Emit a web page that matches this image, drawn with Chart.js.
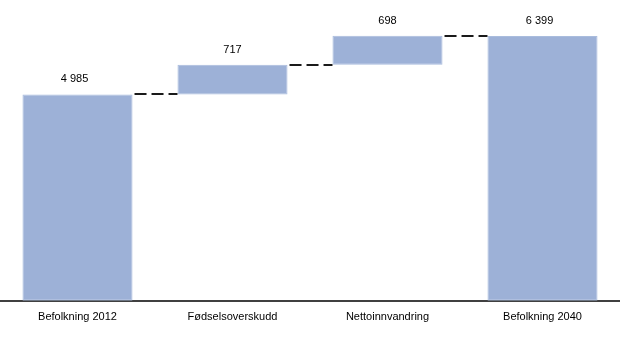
<!DOCTYPE html>
<html>
<head>
<meta charset="utf-8">
<script src="https://cdn.jsdelivr.net/npm/chart.js@4"></script>
<style>
  html, body { margin: 0; padding: 0; background: #fff; }
  #wrap { width: 620px; height: 338px; }
</style>
</head>
<body>
<div id="wrap"><canvas id="fossen"></canvas></div>
<script>
var kategorier = ["Befolkning 2012", "Fødselsoverskudd", "Nettoinnvandring", "Befolkning 2040"];
var verdier = [4985, 717, 698, 6399];
var erTotal = [true, false, false, true];

// bygg flytende søyler: totaler fra 0, endringer fra forrige nivå
var nivaa = 0;
var sooyler = [];
for (var i = 0; i < verdier.length; i++) {
    if (erTotal[i]) {
        sooyler.push([0, verdier[i]]);
        nivaa = verdier[i];
    } else {
        sooyler.push([nivaa, nivaa + verdier[i]]);
        nivaa = nivaa + verdier[i];
    }
}

function formater(v) {
    return String(v).replace(/\B(?=(\d{3})+(?!\d))/g, " ");
}

var skrift = "'Liberation Sans', Arial, sans-serif";

var etiketter = {
    id: "etiketter",
    afterDatasetsDraw: function(chart) {
        var ctx = chart.ctx;
        var meta = chart.getDatasetMeta(0);
        var y = chart.scales.y;
        ctx.save();

        // stiplede linjer mellom søylene
        ctx.strokeStyle = "#1a1a1a";
        ctx.lineWidth = 2;
        ctx.setLineDash([12, 5]);
        for (var i = 0; i < meta.data.length - 1; i++) {
            var a = meta.data[i], b = meta.data[i + 1];
            var topp = Math.max(sooyler[i][0], sooyler[i][1]);
            var py = Math.round(y.getPixelForValue(topp));
            ctx.beginPath();
            ctx.moveTo(a.x + a.width / 2 + 2, py);
            ctx.lineTo(b.x - b.width / 2, py);
            ctx.stroke();
        }
        ctx.setLineDash([]);

        // verdier over søylene
        ctx.fillStyle = "#000";
        ctx.font = "11px " + skrift;
        ctx.textAlign = "center";
        ctx.textBaseline = "middle";
        meta.data.forEach(function(bar, i) {
            var tekst = formater(verdier[i]);
            var dx = tekst.indexOf(" ") >= 0 ? -3 : 0;
            ctx.fillText(tekst, bar.x + dx, bar.y - 15);
        });
        ctx.restore();
    }
};

new Chart(document.getElementById("fossen").getContext("2d"), {
    type: "bar",
    data: {
        labels: kategorier,
        datasets: [{
            data: sooyler,
            backgroundColor: "#9db1d7",
            borderColor: "#a9bcdd",
            borderWidth: 1,
            borderSkipped: false,
            barPercentage: 0.71,
            categoryPercentage: 1.0
        }]
    },
    options: {
        responsive: true,
        maintainAspectRatio: false,
        animation: false,
        layout: { padding: { top: 11, bottom: 4, left: 0, right: 0 } },
        plugins: {
            legend: { display: false },
            tooltip: { enabled: false }
        },
        scales: {
            x: {
                grid: { display: false, drawTicks: false },
                border: { display: true, color: "#404040", width: 2 },
                ticks: {
                    color: "#000",
                    padding: 10,
                    font: { family: skrift, size: 11 }
                }
            },
            y: {
                display: false,
                min: 0,
                max: 7000
            }
        }
    },
    plugins: [etiketter]
});
</script>
</body>
</html>
